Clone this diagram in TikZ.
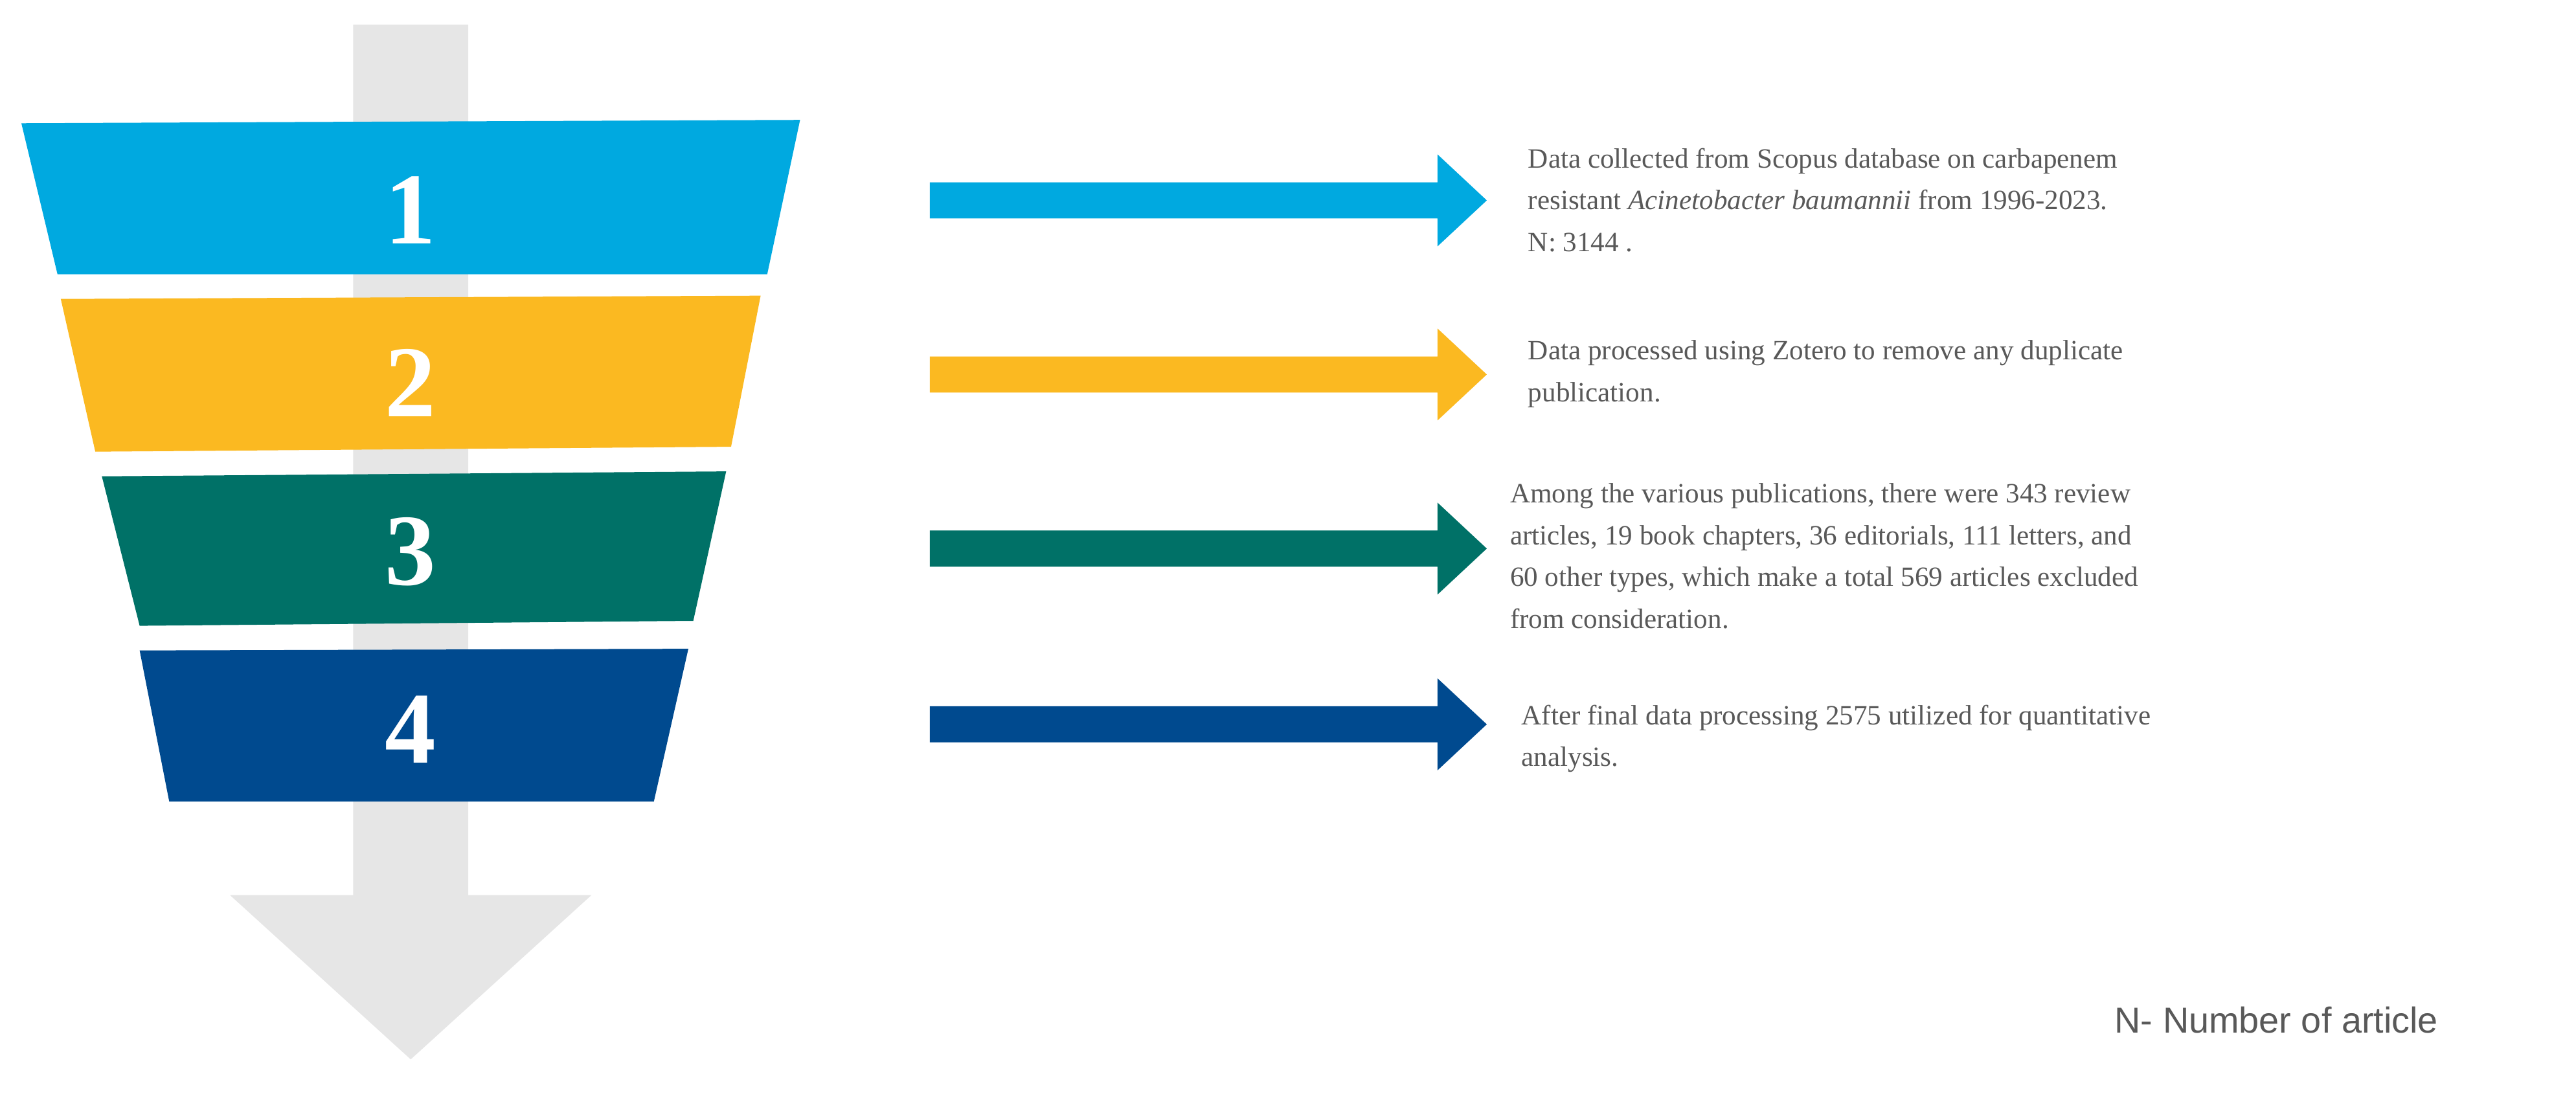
\documentclass[tikz,border=0pt]{standalone}
\usepackage{fontspec}
\setmainfont{Liberation Serif}
\newfontfamily\sansf{Liberation Sans}
\definecolor{c1}{RGB}{0,169,224}
\definecolor{c2}{RGB}{251,185,33}
\definecolor{c3}{RGB}{0,113,103}
\definecolor{c4}{RGB}{0,74,143}
\definecolor{tg}{RGB}{89,89,89}
\definecolor{lg}{RGB}{230,230,230}
\begin{document}
\begin{tikzpicture}[x=1pt,y=-1pt,
  num/.style={text=white,font=\fontsize{62}{62}\selectfont\bfseries},
  desc/.style={anchor=north west,align=left,text=tg,inner sep=0,font=\fontsize{17}{25.5}\selectfont},
  arr/.style={fill=#1}]
\useasboundingbox (0,0) rectangle (1568,675);
% gray arrow
\fill[lg] (215,15) -- (285,15) -- (285,545) -- (360,545) -- (250,645) -- (140,545) -- (215,545) -- cycle;
% bands
\fill[c1] (13,75) -- (487,73) -- (467,167) -- (35,167) -- cycle;
\fill[c2] (37,182) -- (463,180) -- (445,272) -- (58,275) -- cycle;
\fill[c3] (62,290) -- (442,287) -- (422,378) -- (85,381) -- cycle;
\fill[c4] (85,396) -- (419,395) -- (398,488) -- (103,488) -- cycle;
\node[num] (n1) at (250,128) {1};
\node[num] (n2) at (250,233) {2};
\node[num] (n3) at (250,336) {3};
\node[num] (n4) at (250,444) {4};
% arrows
\foreach \y/\c in {122/c1,228/c2,334/c3,441/c4}{
  \fill[\c] (566,\y-11) -- (875,\y-11) -- (875,\y-28) -- (905,\y) -- (875,\y+28) -- (875,\y+11) -- (566,\y+11) -- cycle;
}
\node[desc] (t1) at (930,90) {Data collected from Scopus database on carbapenem\\resistant \textit{Acinetobacter baumannii} from 1996-2023.\\N: 3144 .};
\node[desc] (t2) at (930,207) {Data processed using Zotero to remove any duplicate\\publication.};
\node[desc] (t3) at (919,294) {Among the various publications, there were 343 review\\articles, 19 book chapters, 36 editorials, 111 letters, and\\60 other types, which make a total 569 articles excluded\\from consideration.};
\node[desc] (t4) at (926,429) {After final data processing 2575 utilized for quantitative\\analysis.};
\node[anchor=west,text=tg,inner sep=0,font=\sansf\fontsize{22}{22}\selectfont] (na) at (1287,621) {N- Number of article};
\end{tikzpicture}
\end{document}
